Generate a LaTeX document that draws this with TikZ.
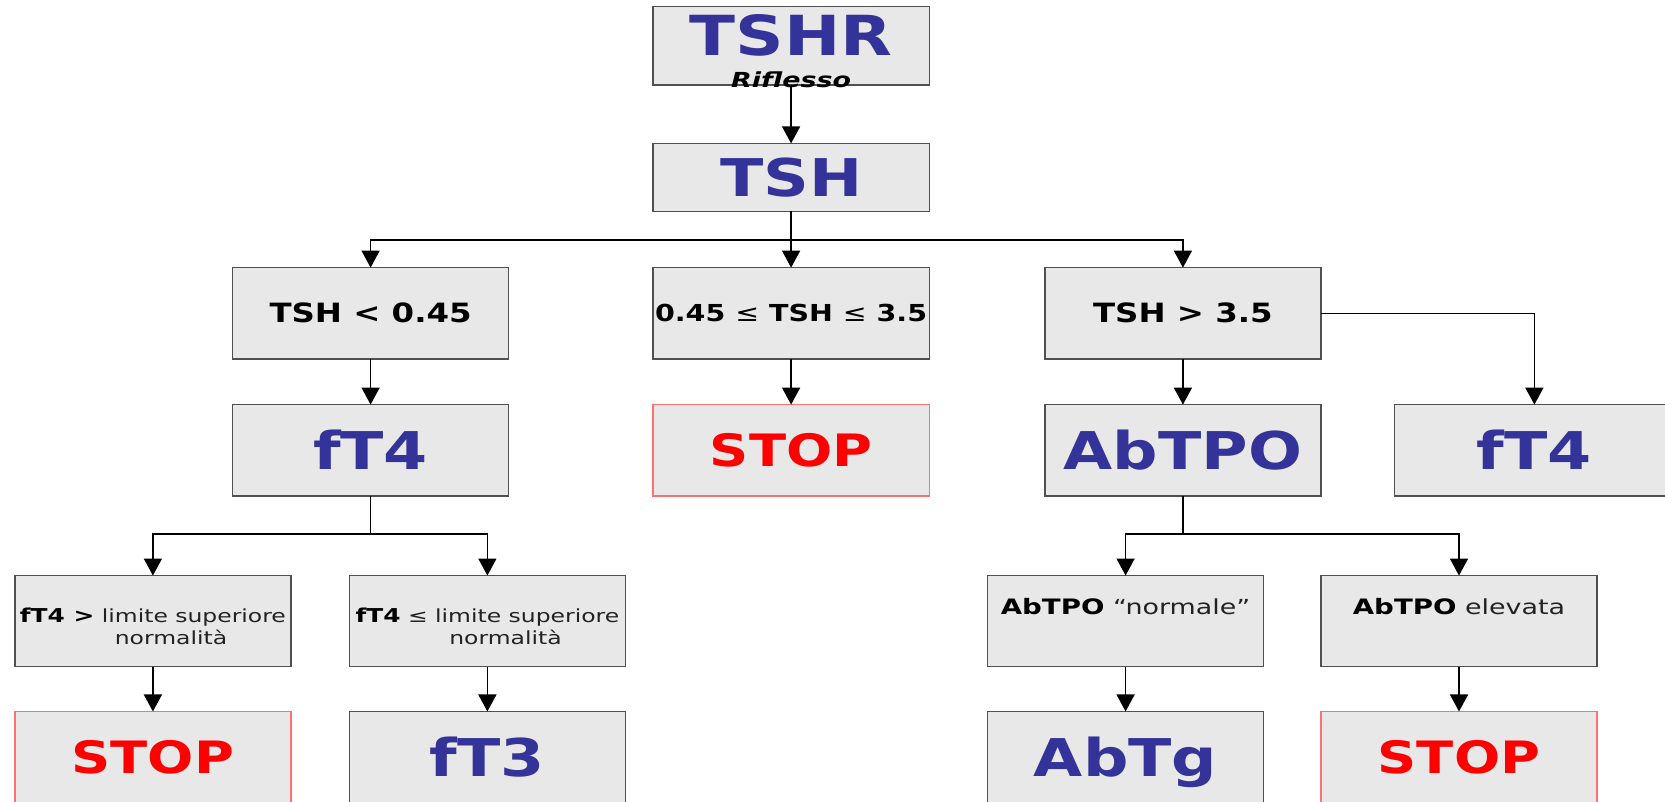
\documentclass[tikz,border=0pt]{standalone}
\usepackage{fontspec}
\setmainfont{DejaVu Sans}
\newfontfamily\bigf[FakeStretch=1.22]{DejaVu Sans}
\newfontfamily\smf[FakeStretch=1.3]{DejaVu Sans}
\usetikzlibrary{arrows.meta}
\definecolor{tblue}{HTML}{333399}
\definecolor{tred}{HTML}{FF0000}
\definecolor{boxfill}{HTML}{E8E8E8}
\definecolor{boxline}{HTML}{505050}
\definecolor{redline}{HTML}{FF7070}
\definecolor{smtext}{HTML}{222222}
\tikzset{
  box/.style={rectangle, draw=boxline, fill=boxfill, line width=1.2pt,
    minimum width=260pt, minimum height=86pt, inner sep=0pt, outer sep=0pt},
  redbox/.style={box, draw=redline},
  bigtxt/.style={font=\bigf\bfseries\fontsize{49}{50}\selectfont, text=tblue,
    text height=35.7pt, text depth=0pt},
  stoptxt/.style={font=\bigf\bfseries\fontsize{42}{43}\selectfont, text=tred,
    text height=30.6pt, text depth=0pt},
  condtxt/.style={font=\bigf\bfseries\fontsize{25}{26}\selectfont, text=black,
    text height=18.2pt, text depth=0pt},
  smalltxt/.style={font=\smf\fontsize{17}{21}\selectfont, text=smtext, align=center},
  abtxt/.style={font=\smf\fontsize{19.5}{21}\selectfont, text=smtext, align=center},
  conn/.style={line width=1.3pt, draw=black},
  arr/.style={conn, -{Triangle[width=17pt,length=16pt]}},
}
\newcommand{\bpart}[1]{{\fontsize{18}{21}\selectfont\bfseries\color{black}#1}}
\newcommand{\bbpart}[1]{{\fontsize{20}{21}\selectfont\bfseries\color{black}#1}}
\begin{document}
\begin{tikzpicture}[x=1pt,y=-1pt]
\clip (0,0) rectangle (1568,755);
\fill[white] (0,0) rectangle (1568,755);
% top
\node[box, minimum height=74pt, font=\bigf\bfseries\fontsize{52}{53}\selectfont, text=tblue,
  text height=46pt, text depth=28pt,
  label={[anchor=base, yshift=-2pt, font=\smf\bfseries\itshape\fontsize{19.5}{19.5}\selectfont, text=black]south:Riflesso}]
  (tshr) at (745,43) {TSHR};
\node[box, minimum height=64pt, font=\bigf\bfseries\fontsize{49}{50}\selectfont, text=tblue,
  text height=35.7pt, text depth=0pt] (tsh) at (745,167) {TSH};
% row 1
\node[box, condtxt] (lt) at (349,295) {TSH < 0.45};
\node[box, condtxt, font=\bigf\bfseries\fontsize{22}{23}\selectfont, text height=16pt] (mid) at (745,295)
  {0.45 {\mdseries≤} TSH {\mdseries≤} 3.5};
\node[box, condtxt] (gt) at (1114,295) {TSH > 3.5};
% row 2
\node[box, bigtxt] (ft4a) at (349,424) {fT4};
\node[redbox, stoptxt] (stopa) at (745,424) {STOP};
\node[box, bigtxt] (abtpo) at (1114,424) {AbTPO};
\node[box, bigtxt, minimum width=264pt] (ft4b) at (1445,424) {fT4};
% row 3
\node[box, smalltxt, text height=65pt, text depth=21pt] (c1) at (144,585)
  {\bpart{fT4 >} limite superiore\\\hspace*{34pt}normalità};
\node[box, smalltxt, text height=65pt, text depth=21pt] (c2) at (459,585)
  {\bpart{fT4} ≤ limite superiore\\\hspace*{34pt}normalità};
\node[box, abtxt, text height=37pt, text depth=49pt] (c3) at (1060,585)
  {\bbpart{AbTPO} “normale”};
\node[box, abtxt, text height=37pt, text depth=49pt] (c4) at (1374,585)
  {\bbpart{AbTPO} elevata};
% row 4
\node[redbox, stoptxt] (stop1) at (144,713) {STOP};
\node[box, bigtxt] (ft3) at (459,713) {fT3};
\node[box, bigtxt] (abtg) at (1060,713) {AbTg};
\node[redbox, stoptxt] (stop2) at (1374,713) {STOP};
% connectors
\draw[arr] (tshr.south) -- (tsh.north);
\draw[conn] (tsh.south) -- ++(0,27) coordinate (bus1);
\draw[arr] (bus1) -| (lt.north);
\draw[arr] (bus1) -| (gt.north);
\draw[arr] (bus1) -- (mid.north);
\draw[arr] (lt.south) -- (ft4a.north);
\draw[arr] (mid.south) -- (stopa.north);
\draw[arr] (gt.south) -- (abtpo.north);
\draw[arr] (gt.east) -| (ft4b.north);
\draw[conn] (ft4a.south) -- ++(0,36) coordinate (bus2);
\draw[arr] (bus2) -| (c1.north);
\draw[arr] (bus2) -| (c2.north);
\draw[conn] (abtpo.south) -- ++(0,36) coordinate (bus3);
\draw[arr] (bus3) -| (c3.north);
\draw[arr] (bus3) -| (c4.north);
\draw[arr] (c1.south) -- (stop1.north);
\draw[arr] (c2.south) -- (ft3.north);
\draw[arr] (c3.south) -- (abtg.north);
\draw[arr] (c4.south) -- (stop2.north);
\end{tikzpicture}
\end{document}
